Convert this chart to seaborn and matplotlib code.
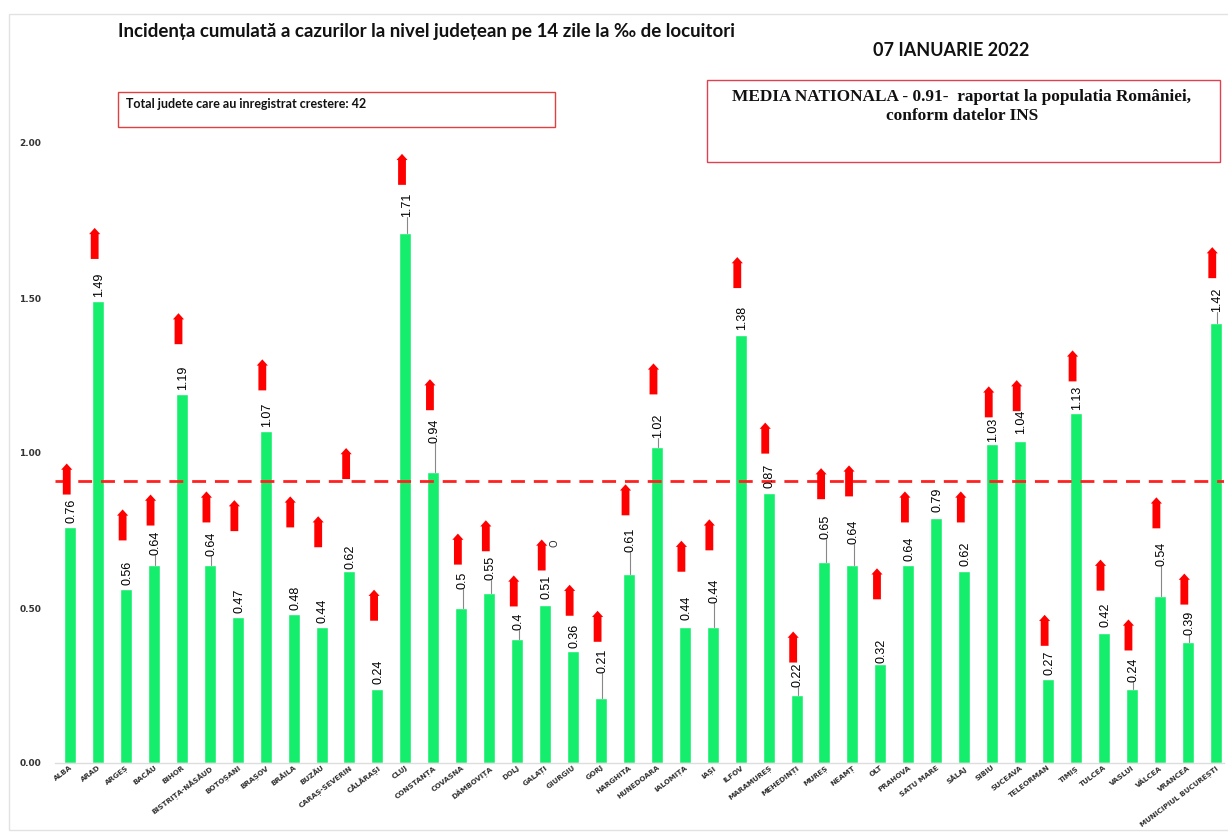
import matplotlib
matplotlib.use("Agg")
import matplotlib.pyplot as plt
from matplotlib.patches import FancyArrow, Rectangle
import seaborn as sns

counties = ["ALBA", "ARAD", "ARGEȘ", "BACĂU", "BIHOR", "BISTRIȚA-NĂSĂUD", "BOTOȘANI",
            "BRAȘOV", "BRĂILA", "BUZĂU", "CARAȘ-SEVERIN", "CĂLĂRAȘI", "CLUJ", "CONSTANȚA",
            "COVASNA", "DÂMBOVIȚA", "DOLJ", "GALAȚI", "GIURGIU", "GORJ", "HARGHITA",
            "HUNEDOARA", "IALOMIȚA", "IAȘI", "ILFOV", "MARAMUREȘ", "MEHEDINȚI", "MUREȘ",
            "NEAMȚ", "OLT", "PRAHOVA", "SATU MARE", "SĂLAJ", "SIBIU", "SUCEAVA",
            "TELEORMAN", "TIMIȘ", "TULCEA", "VASLUI", "VÂLCEA", "VRANCEA",
            "MUNICIPIUL BUCUREȘTI"]
values = [0.76, 1.49, 0.56, 0.64, 1.19, 0.64, 0.47, 1.07, 0.48, 0.44, 0.62, 0.24,
          1.71, 0.94, 0.5, 0.55, 0.4, 0.51, 0.36, 0.21, 0.61, 1.02, 0.44, 0.44, 1.38,
          0.87, 0.22, 0.65, 0.64, 0.32, 0.64, 0.79, 0.62, 1.03, 1.04, 0.27, 1.13, 0.42,
          0.24, 0.54, 0.39, 1.42]
# tip of the red "increase" arrow for each county (None = no arrow)
arrow_tip = [0.966, 1.726, 0.818, 0.866, 1.451, 0.876, 0.848, 1.302, 0.860, 0.796,
             1.016, 0.559, 1.965, 1.238, 0.740, 0.783, 0.605, 0.721, 0.575, 0.491,
             0.899, 1.289, 0.717, 0.786, 1.632, 1.098, 0.424, 0.951, 0.960, 0.628,
             0.876, None, 0.876, 1.215, 1.235, 0.478, 1.331, 0.656, 0.463, 0.857,
             0.611, 1.664]
# distance between bar top and its value label
label_gap = [0.013, 0.013, 0.013, 0.03, 0.013, 0.027, 0.013, 0.015, 0.015, 0.013,
             0.005, 0.015, 0.05, 0.093, 0.06, 0.04, 0.028, 0.02, 0.01, 0.08, 0.072,
             0.03, 0.02, 0.075, 0.017, 0.017, 0.026, 0.074, 0.066, 0.003, 0.013, 0.02,
             0.015, 0.005, 0.02, 0.015, 0.008, 0.02, 0.022, 0.097, 0.023, 0.035]
national_avg = 0.91
yticks = [0.0, 0.5, 1.0, 1.5, 2.0]

title = "Incidența cumulată a cazurilor la nivel județean pe 14 zile la ‰ de locuitori"
date_text = "07 IANUARIE 2022"
box1_text = "Total judete care au inregistrat crestere: 42"
box2_line1 = "MEDIA NATIONALA - 0.91-  raportat la populatia României,"
box2_line2 = "conform datelor INS"

sns.set_theme(style="white")
plt.rcParams["font.family"] = ["DejaVu Sans"]

W, H = 1228, 832
fig = plt.figure(figsize=(W / 100, H / 100), dpi=100)
fig.patch.set_facecolor("white")
ax = fig.add_axes([55 / W, 1 - 763 / H, (1224 - 55) / W, (763 - 143) / H])

GREEN = "#14EE6C"
RED = "#FF0000"

sns.barplot(x=counties, y=values, color=GREEN, saturation=1, width=0.43, ax=ax,
            errorbar=None)

ax.set_xlim(-0.54, 41.3)
ax.set_ylim(0, 2.0)
ax.set_yticks(yticks)
ax.set_yticklabels([f"{t:.2f}" for t in yticks], fontsize=6.5, fontweight="bold",
                   color="#333333")
ax.tick_params(axis="y", length=0, pad=10)
ax.tick_params(axis="x", length=0, pad=1)
ax.set_xticks(range(len(counties)))
ax.set_xticklabels(counties, rotation=37, ha="right", rotation_mode="anchor",
                   fontsize=5.2, fontweight="bold", color="#333333")
ax.set_xlabel("")
ax.set_ylabel("")
for s in ["top", "right", "left"]:
    ax.spines[s].set_visible(False)
ax.spines["bottom"].set_color("#DDDDDD")
ax.spines["bottom"].set_linewidth(1.0)

# national average line
ax.axhline(national_avg, color="#FF2020", linestyle=(0, (5, 3.2)), linewidth=2.0,
           zorder=1)

# value labels
for i, (v, g) in enumerate(zip(values, label_gap)):
    ax.text(i + 0.05, v + g, f"{v:g}", rotation=90, ha="center", va="bottom",
            fontsize=9, family=["Liberation Sans", "DejaVu Sans"], color="#000000",
            zorder=5)
    if g > 0.021:
        ax.plot([i + 0.05, i + 0.05], [v, v + g], color="#888888", linewidth=0.8,
                zorder=4)

# increase arrows
for i, tip in enumerate(arrow_tip):
    if tip is None:
        continue
    length = 0.10
    ax.add_patch(FancyArrow(i - 0.12, tip - length, 0, length, width=0.28,
                            head_width=0.4, head_length=0.02,
                            length_includes_head=True, color=RED, lw=0,
                            clip_on=False, zorder=6))

# stray mark near Galati arrow
ax.text(17.15, 0.71, "O", rotation=90, ha="left", va="center", fontsize=7,
        color="#333333")

# titles
fig.text(118 / W, 1 - 32 / H, title, fontsize=13.5, fontweight="bold",
         family=["Lato", "DejaVu Sans"], ha="left", va="center", color="#111111")
fig.text(951 / W, 1 - 50 / H, date_text, fontsize=13, fontweight="bold",
         family=["Lato", "DejaVu Sans"], ha="center", va="center", color="#111111")

# boxes
fig.add_artist(Rectangle((118 / W, 1 - 127 / H), (555 - 118) / W, (127 - 92) / H,
                         transform=fig.transFigure, fill=False, edgecolor="#E04040",
                         linewidth=1.0))
fig.text(126 / W, 1 - 104 / H, box1_text, fontsize=9, fontweight="bold",
         family=["Lato", "DejaVu Sans"], ha="left", va="center", color="#111111")

fig.add_artist(Rectangle((707 / W, 1 - 162 / H), (1220 - 707) / W, (162 - 80) / H,
                         transform=fig.transFigure, fill=False, edgecolor="#E04050",
                         linewidth=1.0))
fig.text(962 / W, 1 - 97 / H, box2_line1, fontsize=12.4, fontweight="bold",
         family=["Liberation Serif", "DejaVu Serif"], ha="center", va="center",
         color="#111111")
fig.text(962 / W, 1 - 116 / H, box2_line2, fontsize=12.4, fontweight="bold",
         family=["Liberation Serif", "DejaVu Serif"], ha="center", va="center",
         color="#111111")

# outer light frame
fig.add_artist(Rectangle((9 / W, 1 - 830 / H), (1240 - 9) / W, (830 - 14) / H,
                         transform=fig.transFigure, fill=False, edgecolor="#E2E2E2",
                         linewidth=1.0, clip_on=False))

fig.savefig("out.png", dpi=100, facecolor="white")
